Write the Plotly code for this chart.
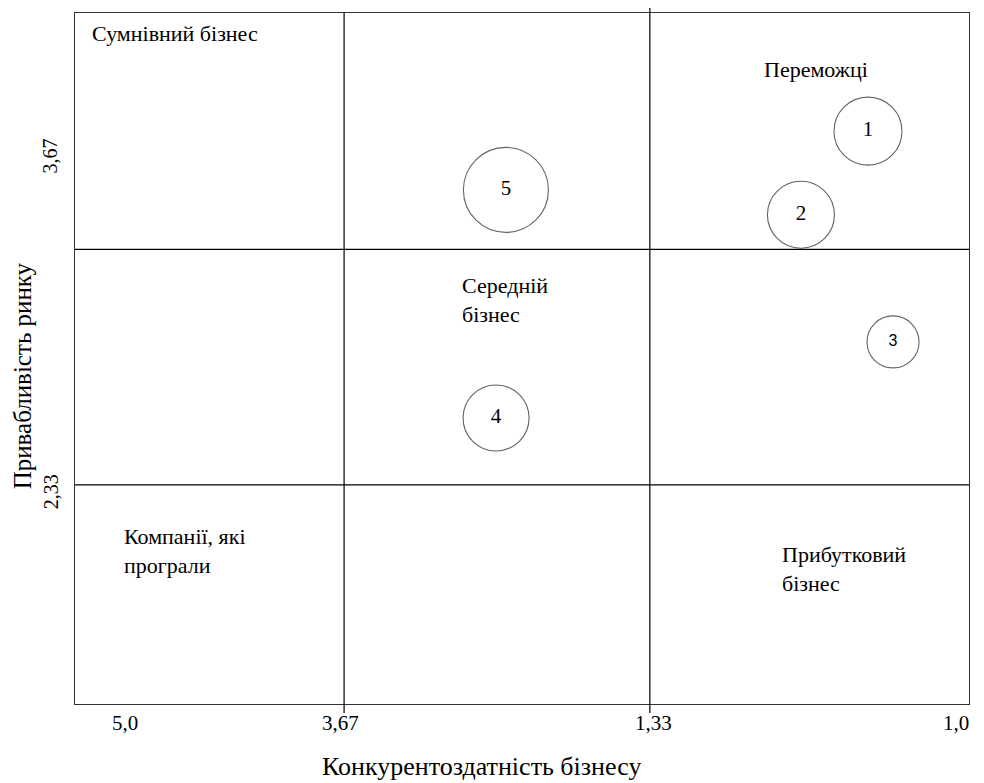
import plotly.graph_objects as go

# Grid boundaries on a 0-100 internal scale, with their printed labels
x_bounds = [0, 30.1, 64.3, 100]
x_tick_labels = ["5,0", "3,67", "1,33", "1,0"]
y_bounds = [0, 31.7, 65.8, 100]
y_tick_labels = ["2,33", "3,67"]

# Business units (bubbles)
unit_names = ["1", "2", "3", "4", "5"]
unit_x = [88.7, 81.2, 91.5, 47.1, 48.2]
unit_y = [82.9, 70.8, 52.4, 41.4, 74.4]
unit_size = [68, 67, 52, 66, 85]

# Quadrant captions
zone_texts = ["Сумнівний бізнес", "Переможці", "Середній<br>бізнес",
              "Компанії, які<br>програли", "Прибутковий<br>бізнес"]
zone_x = [1.7, 76.8, 43.1, 5.3, 78.9]
zone_y = [97.1, 91.8, 58.5, 22.1, 19.5]

x_title = "Конкурентоздатність бізнесу"
y_title = "Привабливість ринку"

SERIF = "Liberation Serif"
SANS = "Liberation Sans"

fig = go.Figure()
fig.add_trace(go.Scatter(
    x=unit_x, y=unit_y, mode="markers+text", text=unit_names,
    textposition="middle center",
    textfont=dict(family=[SERIF, SERIF, SANS, SERIF, SERIF],
                  size=[21, 21, 16, 21, 21], color="black"),
    marker=dict(size=unit_size, color="rgba(0,0,0,0)",
                line=dict(color="#222", width=1.1)),
    hoverinfo="skip", showlegend=False, cliponaxis=False,
))

shapes = []
# inner vertical lines
for i, xb in enumerate(x_bounds[1:3]):
    shapes.append(dict(type="line", xref="x", yref="paper", x0=xb, x1=xb,
                       y0=-0.013, y1=1.0 if i == 0 else 1.009,
                       line=dict(color="black", width=1.2)))
# inner horizontal lines
for yb in y_bounds[1:3]:
    shapes.append(dict(type="line", xref="paper", yref="y", x0=0, x1=1,
                       y0=yb, y1=yb, line=dict(color="black", width=1.2)))

annotations = []
for t, x, y in zip(zone_texts, zone_x, zone_y):
    annotations.append(dict(text=t, x=x, y=y, xref="x", yref="y",
                            xanchor="left", yanchor="middle", align="left",
                            showarrow=False,
                            font=dict(family=SERIF, size=22, color="black")))
# rotated y tick labels
annotations.append(dict(text=y_tick_labels[0], x=-0.042, y=y_bounds[1] - 1.0,
                        xref="paper", yref="y", textangle=-90, showarrow=False,
                        font=dict(family=SERIF, size=20, color="black")))
annotations.append(dict(text=y_tick_labels[1], x=-0.042, y=y_bounds[2] + 13.5,
                        xref="paper", yref="y", textangle=-90, showarrow=False,
                        font=dict(family=SERIF, size=20, color="black")))
# x tick labels
x_lab_pos = [x_bounds[0] + 5.6, x_bounds[1] - 0.4, x_bounds[2] + 0.4, x_bounds[3] - 1.5]
for t, x in zip(x_tick_labels, x_lab_pos):
    annotations.append(dict(text=t, x=x, y=-0.028, xref="x", yref="paper",
                            yanchor="middle", showarrow=False,
                            font=dict(family=SERIF, size=21, color="black")))
# axis titles
annotations.append(dict(text=x_title, x=0.455, y=-0.09, xref="paper", yref="paper",
                        yanchor="middle", showarrow=False,
                        font=dict(family=SERIF, size=26, color="black")))
annotations.append(dict(text=y_title, x=-0.076, y=0.475, xref="paper", yref="paper",
                        textangle=-90, showarrow=False,
                        font=dict(family=SERIF, size=25, color="black")))

fig.update_layout(
    width=976, height=775,
    margin=dict(l=67, r=15, t=5, b=79),
    paper_bgcolor="white", plot_bgcolor="white",
    shapes=shapes, annotations=annotations,
    xaxis=dict(range=[0, 100], showgrid=False, zeroline=False, showticklabels=False,
               ticks="", showline=True, mirror=True, linecolor="#333", linewidth=1.3),
    yaxis=dict(range=[0, 100], showgrid=False, zeroline=False, showticklabels=False,
               ticks="", showline=True, mirror=True, linecolor="#333", linewidth=1.3),
)

fig.write_html("out.html")
